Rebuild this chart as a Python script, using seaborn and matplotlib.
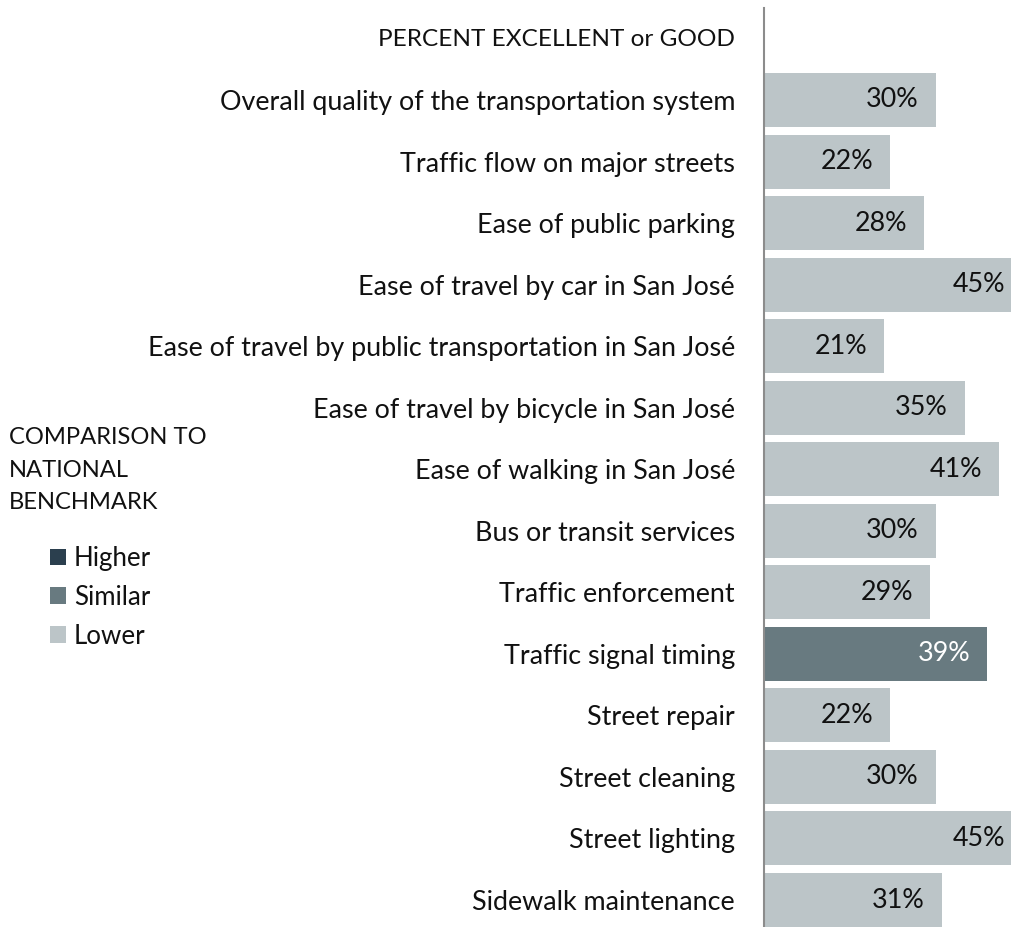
import matplotlib
matplotlib.use("Agg")
import matplotlib.pyplot as plt
from matplotlib.patches import Patch
import seaborn as sns
import pandas as pd

categories = [
    "Overall quality of the transportation system",
    "Traffic flow on major streets",
    "Ease of public parking",
    "Ease of travel by car in San José",
    "Ease of travel by public transportation in San José",
    "Ease of travel by bicycle in San José",
    "Ease of walking in San José",
    "Bus or transit services",
    "Traffic enforcement",
    "Traffic signal timing",
    "Street repair",
    "Street cleaning",
    "Street lighting",
    "Sidewalk maintenance",
]
values = [30, 22, 28, 45, 21, 35, 41, 30, 29, 39, 22, 30, 45, 31]
comparison = ["Lower", "Lower", "Lower", "Lower", "Lower", "Lower", "Lower",
              "Lower", "Lower", "Similar", "Lower", "Lower", "Lower", "Lower"]
legend_levels = ["Higher", "Similar", "Lower"]
palette = {"Higher": "#2b3f4e", "Similar": "#687a80", "Lower": "#bcc5c8"}
text_colors = {"Higher": "white", "Similar": "white", "Lower": "#111111"}

df = pd.DataFrame({"item": categories, "pct": values, "cmp": comparison})

sns.set_theme(style="white")
plt.rcParams["font.family"] = ["Lato", "DejaVu Sans"]
FS = 19.4

W, H = 1011, 927
fig = plt.figure(figsize=(W / 100, H / 100), dpi=100)
x0 = 764
top_px = 8
ax = fig.add_axes([x0 / W, 0, (W - x0) / W, (H - top_px) / H])

sns.barplot(data=df, y="item", x="pct", hue="cmp", palette=palette,
            order=categories, hue_order=legend_levels, dodge=False,
            width=0.877, legend=False, ax=ax, orient="h", saturation=1,
            edgecolor="none")

px_per_pct = 5.73
ax.set_xlim(0, (W - x0) / px_per_pct)
pitch = 61.54
ax.set_ylim(13 + (H - 900) / pitch, -(100 - top_px) / pitch)

for i, (v, c) in enumerate(zip(values, comparison)):
    ax.text(v - 17 / px_per_pct, i, f"{v}%", ha="right", va="center",
            fontsize=FS, color=text_colors[c])

ax.set_xlabel("")
ax.set_ylabel("")
ax.set_xticks([])
ax.tick_params(axis="y", length=0, pad=29 / 1.389, labelsize=FS, labelcolor="#111111")
for s in ["top", "right", "bottom"]:
    ax.spines[s].set_visible(False)
ax.spines["left"].set_color("#8c8c8c")
ax.spines["left"].set_linewidth(1.5)

fig.text(735 / W, 1 - 40 / H, "PERCENT EXCELLENT or GOOD", ha="right", va="center",
         fontsize=17.6, color="#111111")

fig.text(9 / W, 1 - 427 / H, "COMPARISON TO\nNATIONAL\nBENCHMARK", ha="left", va="top",
         fontsize=17.1, color="#111111", linespacing=1.68)

handles = [Patch(facecolor=palette[k], edgecolor="none") for k in legend_levels]
fig.legend(handles, legend_levels, loc="upper left",
           bbox_to_anchor=(50 / W, 1 - 546 / H), frameon=False,
           fontsize=18.6, handlelength=0.62, handleheight=0.62,
           handletextpad=0.3, labelspacing=0.54, borderpad=0, borderaxespad=0,
           labelcolor="#111111")

fig.savefig("out.png", dpi=100)
